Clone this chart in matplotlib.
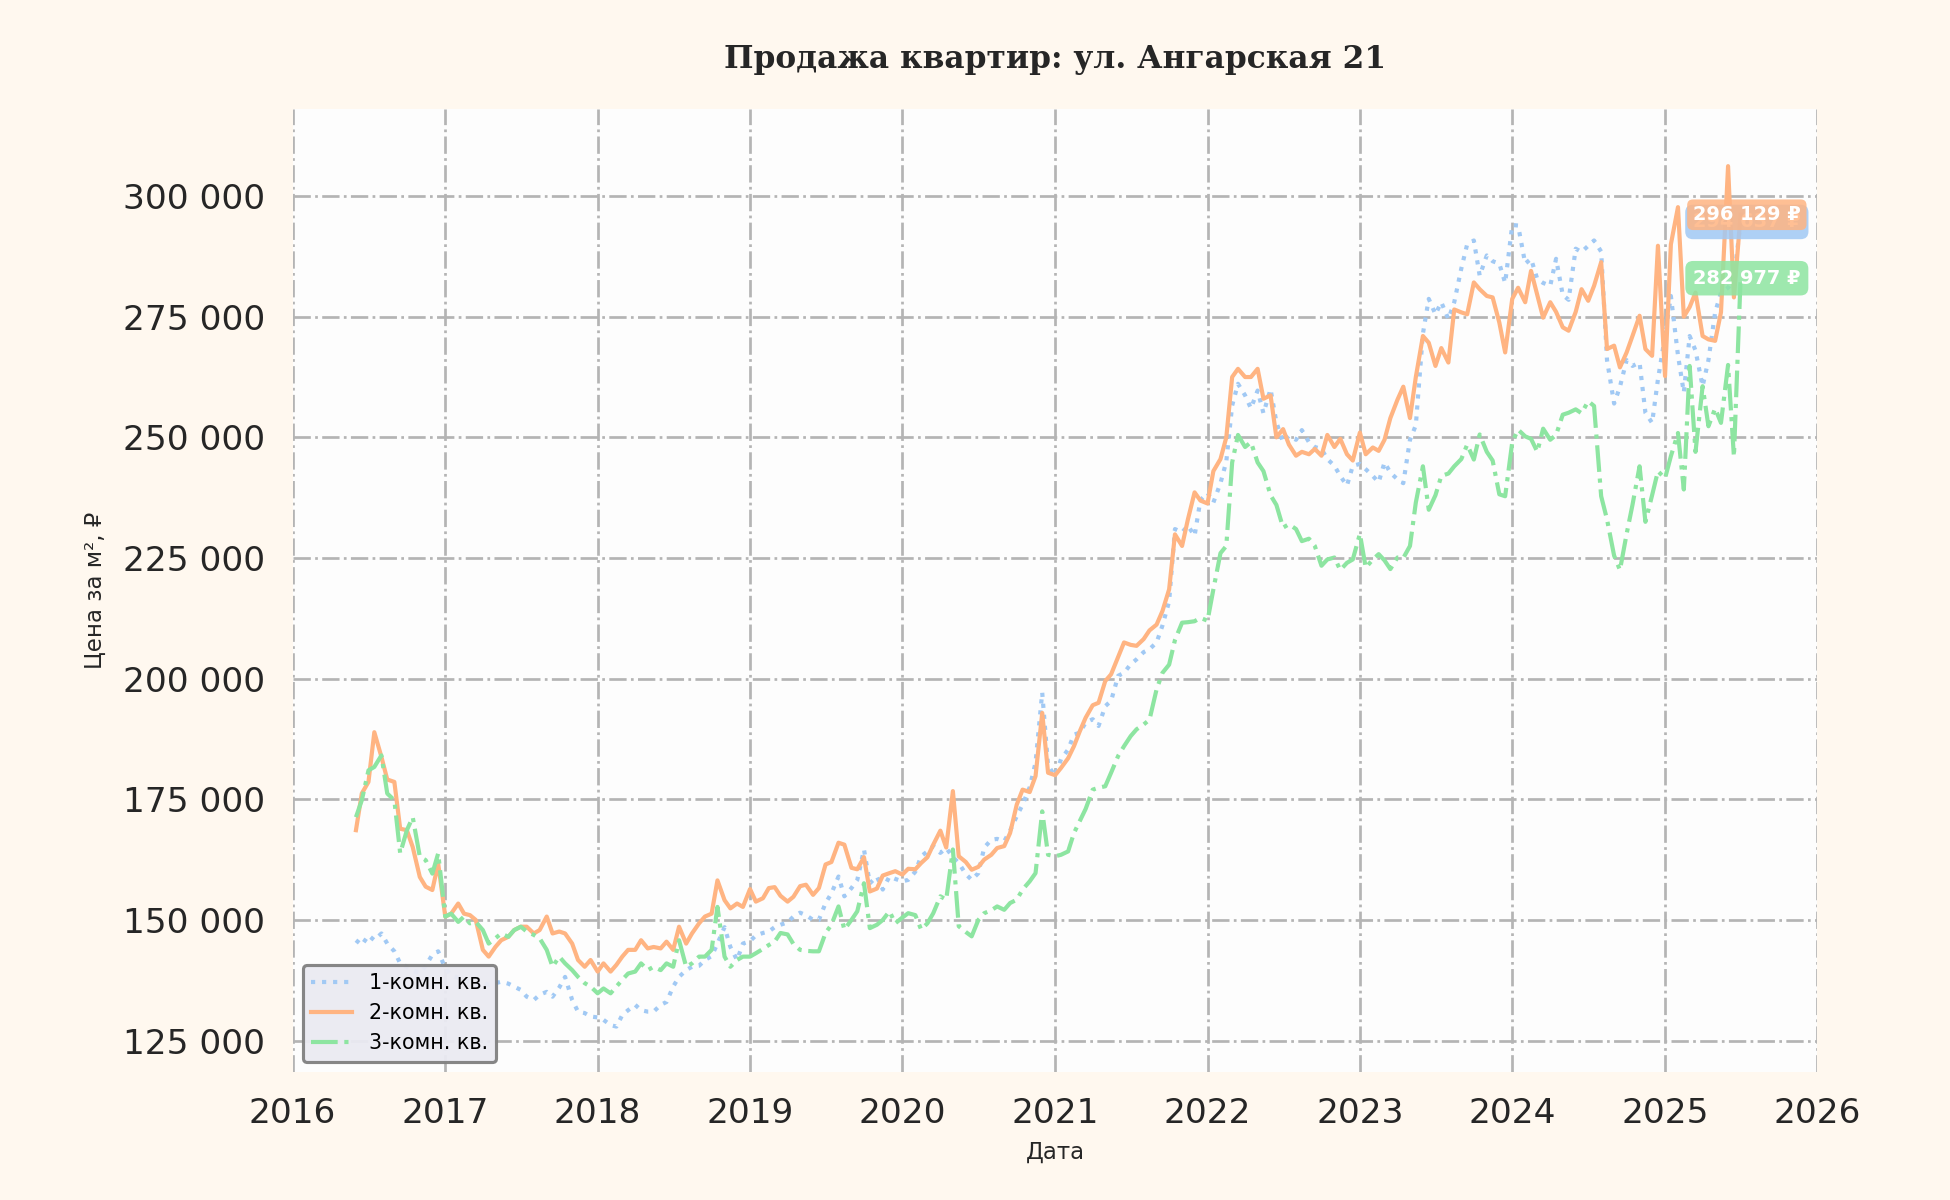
import numpy as np
import pandas as pd
import matplotlib
matplotlib.use("Agg")
import matplotlib.pyplot as plt
import matplotlib.dates as mdates
from matplotlib.ticker import FuncFormatter

# цены за м², тыс. ₽, по полумесяцам начиная с 2016-06-01
dates = pd.date_range("2016-06-01", periods=219, freq="SMS")

one_room_k = [
    145.8, 144.8, 146.8, 145.8, 147.2, 145.1, 143.5, 141.0, 140.3, 139.5, 139.0, 140.5,
    142.8, 143.5, 140.0, 138.5, 138.0, 137.5, 137.0, 136.5, 137.0, 136.5, 136.9, 137.2,
    136.8, 136.2, 135.5, 134.1, 133.4, 134.5, 135.1, 134.1, 136.0, 138.2, 133.4, 131.0,
    130.7, 130.0, 129.8, 129.3, 128.2, 127.9, 130.3, 131.3, 132.4, 131.3, 131.0, 131.0,
    132.4, 133.0, 136.2, 138.2, 139.6, 140.3, 140.5, 141.7, 142.5, 145.1, 148.5, 144.4,
    141.7, 145.1, 145.6, 146.8, 147.3, 147.6, 148.5, 149.0, 149.5, 150.7, 151.5, 151.0,
    150.0, 150.0, 153.5, 155.5, 159.0, 154.9, 156.6, 158.3, 164.6, 157.6, 159.0, 156.3,
    159.0, 158.5, 158.0, 158.3, 160.0, 163.2, 164.2, 165.3, 163.9, 164.9, 163.0, 161.8,
    159.5, 158.3, 159.7, 165.0, 166.6, 166.8, 166.3, 168.5, 171.5, 173.9, 177.5, 182.6,
    197.1, 182.0, 179.8, 183.3, 185.3, 188.4, 188.8, 190.9, 191.6, 190.2, 194.3, 195.4,
    200.6, 201.2, 203.0, 204.0, 205.5, 206.1, 207.5, 211.0, 216.0, 231.0, 230.3, 231.7,
    229.6, 237.0, 238.5, 236.5, 240.5, 245.0, 256.6, 261.1, 258.7, 256.0, 259.7, 255.0,
    260.0, 253.1, 249.0, 250.3, 249.5, 251.5, 249.0, 248.0, 247.6, 245.5, 244.1, 242.0,
    240.0, 244.1, 244.5, 243.4, 242.0, 240.7, 244.8, 242.7, 241.3, 240.5, 249.5, 252.5,
    271.5, 278.7, 275.5, 278.0, 274.5, 278.0, 285.0, 290.0, 290.8, 283.5, 287.7, 286.5,
    286.0, 282.0, 294.0, 293.9, 286.0, 287.0, 282.8, 282.0, 281.4, 287.0, 279.5, 278.5,
    289.1, 288.4, 289.7, 290.8, 288.5, 266.0, 257.0, 260.5, 266.0, 264.8, 265.5, 255.1,
    253.0, 262.0, 271.0, 279.3, 267.0, 259.3, 271.0, 268.0, 260.6, 266.0, 275.9, 280.0,
    281.0, 282.8, 294.637,
]

two_room_k = [
    168.6, 176.2, 178.6, 188.9, 183.8, 179.1, 178.6, 168.9, 168.6, 165.1, 158.9, 156.9,
    156.2, 161.7, 150.7, 151.3, 153.4, 151.3, 151.0, 150.0, 143.8, 142.4, 144.4, 145.8,
    146.5, 147.9, 148.6, 148.6, 147.2, 147.9, 150.7, 147.2, 147.6, 147.2, 145.1, 141.7,
    140.3, 141.7, 139.3, 141.0, 139.3, 140.7, 142.4, 143.8, 143.8, 145.8, 144.1, 144.4,
    144.1, 145.5, 143.8, 148.6, 145.1, 147.2, 149.3, 150.7, 151.3, 158.2, 154.1, 152.4,
    153.4, 152.7, 156.4, 153.8, 154.5, 156.6, 156.8, 155.0, 153.8, 154.8, 157.0, 157.3,
    155.2, 156.6, 161.5, 162.0, 166.0, 165.6, 160.8, 160.5, 163.0, 155.9, 156.5, 159.2,
    159.7, 160.1, 159.4, 160.6, 160.5, 161.8, 163.0, 165.6, 168.5, 165.0, 176.7, 163.2,
    162.0, 160.4, 161.0, 162.5, 163.5, 164.9, 165.3, 168.0, 173.9, 177.0, 176.5, 179.8,
    192.9, 180.5, 180.0, 181.5, 183.5, 186.0, 189.1, 191.9, 194.5, 195.0, 199.5, 200.9,
    204.5, 207.5, 207.0, 206.8, 208.2, 210.0, 211.2, 214.0, 218.5, 229.9, 227.5, 233.0,
    238.6, 236.9, 236.3, 243.0, 245.5, 250.0, 262.5, 264.2, 262.5, 262.5, 264.2, 258.0,
    258.7, 250.0, 251.7, 248.5, 246.2, 247.0, 246.5, 247.6, 246.2, 250.5, 248.0, 249.7,
    246.5, 245.2, 251.0, 246.5, 247.9, 247.2, 249.5, 254.0, 257.8, 260.5, 254.0, 262.5,
    271.0, 269.6, 264.8, 268.5, 265.5, 276.5, 275.9, 275.5, 282.1, 280.7, 279.3, 279.0,
    273.8, 267.6, 278.7, 281.0, 278.0, 284.5, 279.5, 274.8, 278.0, 276.0, 272.8, 272.1,
    276.0, 280.7, 278.3, 281.4, 286.3, 268.3, 269.0, 264.5, 267.6, 271.0, 275.2, 268.3,
    266.9, 289.7, 262.7, 290.0, 297.7, 275.0, 277.0, 280.0, 271.0, 270.3, 270.0, 275.9,
    306.2, 279.0, 296.129,
]

three_room_k = [
    171.3, 174.8, 181.0, 181.7, 184.1, 176.2, 174.8, 163.8, 168.6, 171.3, 163.1, 162.4,
    159.6, 163.8, 150.7, 151.3, 149.6, 150.7, 149.3, 149.6, 147.9, 145.1, 146.2, 147.2,
    146.5, 147.9, 148.6, 147.6, 146.9, 146.2, 143.8, 140.3, 142.4, 141.0, 139.6, 138.2,
    136.9, 136.2, 134.8, 135.8, 134.8, 136.2, 137.6, 138.9, 139.3, 141.0, 139.6, 140.3,
    139.6, 141.0, 140.3, 145.8, 140.3, 141.0, 142.4, 142.4, 143.8, 152.7, 142.4, 140.3,
    141.7, 142.4, 142.4, 143.1, 144.0, 144.8, 145.5, 147.3, 147.0, 145.0, 143.8, 143.6,
    143.5, 143.5, 147.3, 149.0, 152.8, 148.0, 150.0, 151.8, 157.6, 148.3, 149.0, 150.0,
    151.8, 149.3, 150.5, 151.4, 151.0, 148.0, 149.3, 151.4, 154.9, 154.2, 164.6, 148.7,
    147.5, 146.6, 150.0, 151.4, 152.0, 152.8, 152.1, 153.5, 154.2, 156.3, 158.0, 159.7,
    172.5, 163.5, 163.2, 163.5, 164.2, 168.0, 170.5, 173.0, 177.0, 177.4, 177.7, 180.5,
    184.0, 186.0, 188.1, 189.5, 190.5, 191.5, 197.8, 201.2, 202.9, 208.0, 211.6, 211.7,
    211.9, 212.6, 212.0, 218.5, 226.0, 227.5, 244.8, 250.5, 248.0, 249.0, 244.8, 243.0,
    238.0, 236.0, 231.3, 232.0, 231.0, 228.5, 229.0, 227.5, 223.4, 224.7, 225.1, 222.5,
    224.0, 224.7, 230.0, 223.0, 224.7, 225.8, 224.5, 222.7, 225.1, 225.0, 227.5, 236.5,
    244.0, 235.0, 238.0, 242.0, 242.5, 244.0, 245.5, 248.5, 245.4, 250.6, 247.0, 245.2,
    238.2, 237.8, 249.0, 251.6, 250.2, 249.7, 247.0, 251.8, 249.5, 250.5, 254.7, 255.1,
    255.8, 255.0, 257.5, 256.5, 237.8, 233.0, 225.5, 222.5, 230.0, 236.0, 244.0, 232.5,
    238.0, 243.0, 241.5, 246.1, 250.9, 239.2, 264.8, 247.0, 260.6, 252.3, 256.0, 253.0,
    265.0, 246.0, 282.977,
]

labels = ["1-комн. кв.", "2-комн. кв.", "3-комн. кв."]
colors = ["#a1c9f4", "#ffb482", "#8de5a1"]
styles = [":", "-", "-."]
title = "Продажа квартир: ул. Ангарская 21"

series = [np.array(s) * 1000 for s in (one_room_k, two_room_k, three_room_k)]
for s in series:
    assert len(s) == len(dates)

fig = plt.figure(figsize=(13, 8), dpi=150, facecolor="#fff8ef")
ax = fig.add_axes([0.150, 0.1067, 0.782, 0.8023])
ax.set_facecolor("#fdfdfd")

for s, lab, col, ls in zip(series, labels, colors, styles):
    ax.plot(dates, s, ls, color=col, lw=2.0, label=lab)

# подписи последних значений
pads = [0.4, 0.3, 0.4]
for s, col, pad in zip(series, colors, pads):
    txt = f"{s[-1]:,.0f}".replace(",", " ") + " ₽"
    ax.annotate(txt, (dates[-1], s[-1]), xytext=(3, 0), textcoords="offset points",
                ha="center", va="center", fontsize=9.3, fontweight="bold", color="white",
                bbox=dict(boxstyle=f"round,pad={pad}", fc=col, ec="none", alpha=0.85))

ax.set_xlim(pd.Timestamp("2016-01-01"), pd.Timestamp("2026-01-01"))
ax.set_ylim(118500, 318000)
ax.set_yticks(np.arange(125000, 300001, 25000))
ax.yaxis.set_major_formatter(FuncFormatter(lambda v, p: f"{v:,.0f}".replace(",", " ")))
ax.xaxis.set_major_locator(mdates.YearLocator())
ax.xaxis.set_major_formatter(mdates.DateFormatter("%Y"))
ax.tick_params(labelsize=16.5, length=0, colors="#262626")
ax.tick_params(axis="y", pad=13)
ax.tick_params(axis="x", pad=12)

ax.grid(True, linestyle="-.", color="#b4b4b4", lw=1.3)
for sp in ax.spines.values():
    sp.set_visible(False)

ax.set_xlabel("Дата", fontsize=11, color="#262626", labelpad=5)
ax.set_ylabel("Цена за м², ₽", fontsize=11, color="#262626", labelpad=8)
ax.set_title(title, fontsize=15, fontweight="bold", family="DejaVu Serif", color="#262626", pad=20)

leg = ax.legend(loc="lower left", fontsize=9.9, facecolor="#eaeaf2", edgecolor="#808080",
                framealpha=0.95)
leg.get_frame().set_linewidth(1.5)

fig.savefig("out.png", dpi=150, facecolor=fig.get_facecolor())
